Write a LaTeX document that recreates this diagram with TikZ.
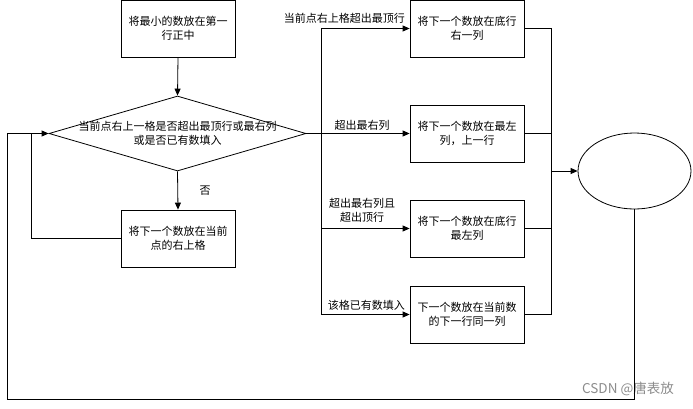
\documentclass[tikz,border=0pt]{standalone}
\usepackage{fontspec}
\setmainfont{Noto Sans CJK SC}
\usetikzlibrary{shapes.geometric,arrows.meta}

\begin{document}
\begin{tikzpicture}[x=1pt,y=-1pt]
\tikzset{font=\fontsize{11}{14}\selectfont, stepbox/.style={draw, line width=0.8pt, minimum width=114pt, minimum height=57pt, align=center, inner sep=2pt}, line/.style={draw, line width=0.8pt}, arr/.style={line, -{Triangle[length=7pt,width=6pt]}}, lbl/.style={align=center, inner sep=1pt}}
	\useasboundingbox (0,0) rectangle (693,408);
	\node[stepbox] (start) at (178,28.5) {将最小的数放在第一\\行正中};
	\node[draw, diamond, line width=0.8pt, minimum width=257pt, minimum height=75pt, inner sep=0pt] (dec) at (177.5,133.5) {};
	\node[lbl] (dectext) at (dec.center) {当前点右上一格是否超出最顶行或最右列\\或是否已有数填入};
	\node[stepbox] (move) at (178,238.5) {将下一个数放在当前\\点的右上格};
	\node[stepbox] (bottomrow) at (467,28.5) {将下一个数放在底行\\右一列};
	\node[stepbox] (leftcol) at (467,133.5) {将下一个数放在最左\\列，上一行};
	\node[stepbox] (corner) at (467,228.5) {将下一个数放在底行\\最左列};
	\node[stepbox] (below) at (467,314.5) {下一个数放在当前数\\的下一行同一列};
	\node[draw, ellipse, line width=0.8pt, minimum width=113pt, minimum height=76pt] (stop) at (634.5,171) {};
	\node[lbl, anchor=east] (toprow) at (406,18) {当前点右上格超出最顶行};
	\node[lbl] (rightcol) at (362,125) {超出最右列};
	\node[lbl] (both) at (362,210) {超出最右列且\\超出顶行};
	\node[lbl, anchor=east] (filled) at (406,305) {该格已有数填入};
	\node (no) at (205,191) {否};
	\node[text=black!45, font=\fontsize{13.5}{16}\selectfont] (mark) at (628,389) {CSDN @唐表放};
	\coordinate (lj) at (31,133.5);
	\coordinate (lc) at (7,399);
	\coordinate (rtop) at (321,28.5);
	\coordinate (rbot) at (321,314.5);
	\coordinate (mj) at (551,171);
	\draw[arr] (start.south) -- (dec.north);
	\draw[arr] (dec.south) -- (move.north);
	\draw[line] (move.west) -| (lj);
	\draw[line] (stop.south) |- (lc) |- (lj);
	\draw[arr] (lj) -- (dec.west);
	\draw[arr] (dec.east) -- (leftcol.west);
	\draw[line] (rtop) -- (rbot);
	\draw[arr] (rtop) -- (bottomrow.west);
	\draw[arr] (corner.west -| rtop) -- (corner.west);
	\draw[arr] (rbot) -- (below.west);
	\draw[line] (bottomrow.east) -| (below.east -| mj) -- (below.east);
	\draw[line] (leftcol.east) -- (leftcol.east -| mj);
	\draw[line] (corner.east) -- (corner.east -| mj);
	\draw[arr] (mj) -- (stop.west);
\end{tikzpicture}
\end{document}
